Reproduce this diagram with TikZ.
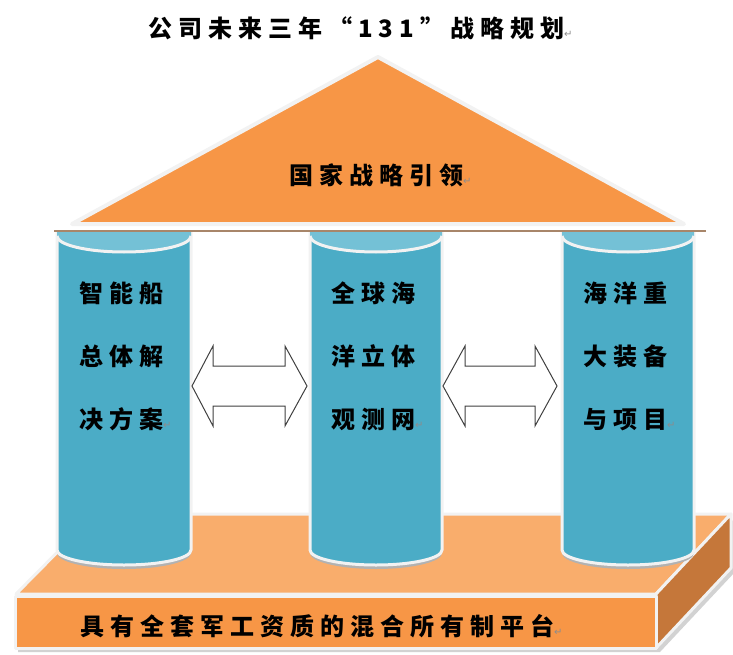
\documentclass[tikz,border=0pt]{standalone}
\usepackage{fontspec}
\newfontfamily\cjk[LetterSpace=25]{Noto Sans CJK SC}
\newfontfamily\retfont{DejaVu Sans}
\definecolor{roofc}{HTML}{F79646}
\definecolor{pillarc}{HTML}{4BACC6}
\definecolor{pillartop}{HTML}{74C1D6}
\definecolor{basefront}{HTML}{F79646}
\definecolor{basetop}{HTML}{F9AD6C}
\definecolor{baseside}{HTML}{C5773A}
\definecolor{rim}{HTML}{F2F2F2}
\definecolor{beam}{HTML}{A8866A}
\definecolor{retc}{HTML}{8C8C8C}
\newcommand{\ret}{{\retfont\mdseries\fontsize{10}{10}\selectfont\color{retc}↵}}
\tikzset{
  rimline/.style={draw=rim, line width=3pt, line join=round},
  pillarbody/.style={fill=pillarc, rimline},
  lbl/.style={font=\cjk\bfseries\fontsize{24}{63}\selectfont, text=black, inner sep=0pt, align=left},
  dblarrow/.style={draw=black!75, line width=1pt, fill=white, line join=miter},
}
\begin{document}
\begin{tikzpicture}[x=1pt,y=-1pt]
\useasboundingbox (0,0) rectangle (733,655);
% title
\node[lbl, anchor=west] (title) at (148,28) {公司未来三年“131”战略规划\ret};
% base
\fill[gray!35] (18,600) -- (660,600) -- (735,518) -- (735,572) -- (660,652) -- (18,652) -- cycle;
\path[fill=basetop, rimline] (16,594) -- (656,594) -- (731,514) -- (95,514) -- cycle;
\path[fill=baseside, rimline] (656,594) -- (731,514) -- (731,568) -- (656,648) -- cycle;
\path[fill=basefront, rimline] (15,596) rectangle (656,648);
\node[lbl, anchor=west] (base) at (80,626) {具有全套军工资质的混合所有制平台\ret};
% pillars
\foreach \cx/\rx [count=\i] in {124/67, 376/66, 628/66} {
  \fill[gray!60] (\cx-\rx,553) arc[start angle=180, end angle=360, x radius=\rx pt, y radius=16pt] -- (\cx+\rx,548) arc[start angle=0, end angle=-180, x radius=\rx pt, y radius=14pt] -- cycle;
  \path[pillarbody] (\cx-\rx,232) -- (\cx-\rx,550) arc[start angle=180, end angle=360, x radius=\rx pt, y radius=15pt] -- (\cx+\rx,232) -- cycle;
  \fill[pillartop] (\cx-\rx,232) -- (\cx-\rx,236) arc[start angle=180, end angle=360, x radius=\rx pt, y radius=16pt] -- (\cx+\rx,232) -- cycle;
  \draw[rim, line width=3pt] (\cx-\rx,236) arc[start angle=180, end angle=360, x radius=\rx pt, y radius=16pt];
}
% roof
\path[fill=roofc, draw=rim, line width=4pt, line join=round] (378,57) -- (684,224) -- (72,224) -- cycle;
\draw[beam, line width=2.5pt] (54,231) -- (706,231);
\node[lbl, anchor=west] (roof) at (289,175) {国家战略引领\ret};
% pillar texts
\node[lbl, anchor=north west] (p1) at (79,282) {智能船\\总体解\\决方案\ret};
\node[lbl, anchor=north west] (p2) at (331,282) {全球海\\洋立体\\观测网\ret};
\node[lbl, anchor=north west] (p3) at (583,282) {海洋重\\大装备\\与项目\ret};
% double arrows
\path[dblarrow] (192,386) -- (213,346) -- (213,366) -- (285,366) -- (285,346) -- (307,386) -- (285,426) -- (285,406) -- (213,406) -- (213,426) -- cycle;
\path[dblarrow] (443,386) -- (465,346) -- (465,366) -- (535,366) -- (535,346) -- (557,386) -- (535,426) -- (535,406) -- (465,406) -- (465,426) -- cycle;
\end{tikzpicture}
\end{document}
